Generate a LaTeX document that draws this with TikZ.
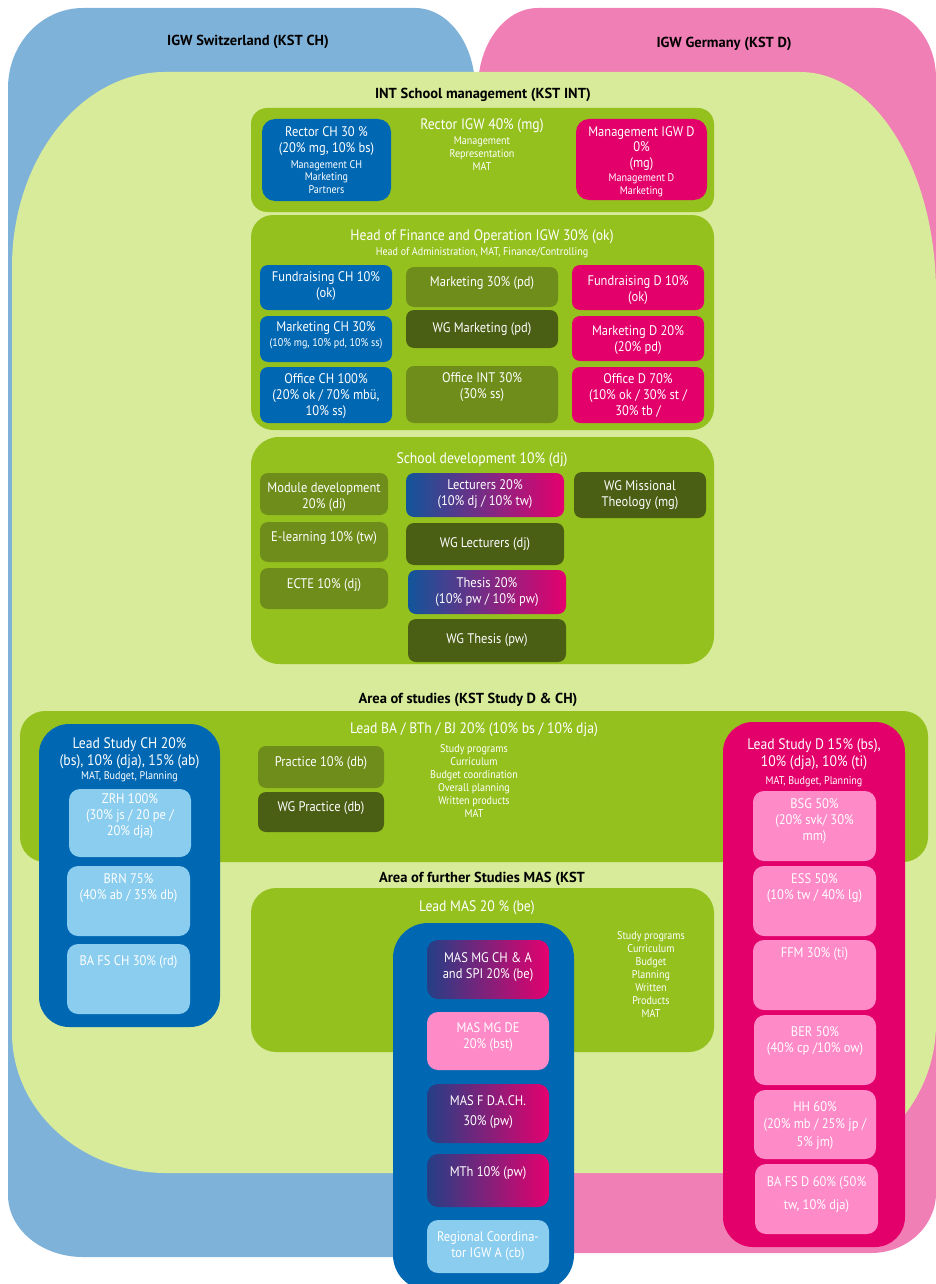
\documentclass[tikz,border=0pt]{standalone}
\usepackage{fontspec}
\setmainfont{PT Sans}[FakeStretch=0.9]
\newfontfamily\ttlfont{PT Sans}
\definecolor{cBlueL}{HTML}{7FB2D8}
\definecolor{cPinkL}{HTML}{F07FB5}
\definecolor{cGreenL}{HTML}{D8EB9B}
\definecolor{cGreenM}{HTML}{95C11F}
\definecolor{cBlue}{HTML}{0068B3}
\definecolor{cMag}{HTML}{E4006B}
\definecolor{cOlive}{HTML}{6F8D1B}
\definecolor{cDark}{HTML}{4A5E14}
\definecolor{cLBlue}{HTML}{8ACDEF}
\definecolor{cLPink}{HTML}{FF8AC8}
\definecolor{cGradL}{HTML}{11559A}
\definecolor{cGradR}{HTML}{E5006E}
\definecolor{cGradL2}{HTML}{243F86}
\tikzset{
  bx/.style={anchor=north west, inner sep=0pt, outer sep=0pt, draw=none, rounded corners=8pt},
  panel/.style={bx, fill=cGreenM, rounded corners=22pt},
  col/.style={bx, rounded corners=30pt},
  grad/.style={left color=cGradL, right color=cGradR},
  grad2/.style={left color=cGradL2, right color=cGradR},
  tx/.style={inner sep=0pt, align=center, text=white, font=\fontsize{13.9}{16}\selectfont},
  ts/.style={inner sep=0pt, align=center, text=white, font=\fontsize{11.2}{12.9}\selectfont},
  th/.style={inner sep=0pt, align=center, text=white, font=\fontsize{15.2}{17}\selectfont},
  ttl/.style={inner sep=0pt, align=center, text=black, font=\ttlfont\bfseries\fontsize{14.5}{16}\selectfont},
}
\newcommand\bxn[7]{\node[bx,#2,minimum width={#5-#3},minimum height={#6-#4}] (#1) at (#3,#4) {#7};}
\begin{document}
\begin{tikzpicture}[x=1pt,y=-1pt]
\useasboundingbox (0,0) rectangle (936,1284);
% outer areas
\fill[cBlueL] (83,8) -- (415,8) .. controls (448.1,8) and (475,43.8) .. (475,88) -- (475,1197) .. controls (475,1230.1) and (448.1,1257) .. (415,1257) -- (83,1257) .. controls (41.6,1257) and (8,1229.2) .. (8,1195) -- (8,88) .. controls (8,43.8) and (41.6,8) .. (83,8) -- cycle;
\fill[cPinkL] (538,8) -- (876,8) .. controls (909.1,8) and (936,39.4) .. (936,78) -- (936,1193) .. controls (936,1226.1) and (906.9,1253) .. (871,1253) -- (538,1253) .. controls (504.9,1253) and (478,1226.1) .. (478,1193) -- (478,88) .. controls (478,43.8) and (504.9,8) .. (538,8) -- cycle;
\fill[cGreenL] (165,72) -- (800,72) .. controls (875.1,72) and (936,171) .. (936,293) -- (936,1023) .. controls (936,1105.8) and (868.8,1173) .. (786,1173) -- (166,1173) .. controls (81,1173) and (12,1110.3) .. (12,1033) -- (12,267) .. controls (12,159.4) and (80.5,72) .. (165,72) -- cycle;
% titles
\node[ttl] (tCH) at (248,42) {IGW Switzerland (KST CH)};
\node[ttl] (tD) at (724,44) {IGW Germany (KST D)};
\node[ttl] (tINT) at (483,95) {INT School management (KST INT)};
\node[ttl] (tAS) at (468,700) {Area of studies (KST Study D \& CH)};
\node[ttl] (tMAS) at (482,879) {Area of further Studies MAS (KST};
% panel 1: rector
\bxn{p1}{panel,rounded corners=16pt}{251}{108}{714}{212}{}
\bxn{rch}{fill=cBlue,rounded corners=13pt}{262}{119}{391}{201}{}
\node[tx] (rch-a) at (326.5,141) {Rector CH 30 \%\\(20\% mg, 10\% bs)};
\node[ts] (rch-b) at (326.5,177) {Management CH\\Marketing\\Partners};
\node[th] (rig-a) at (482,126) {Rector IGW 40\% (mg)};
\node[ts] (rig-b) at (482,153.5) {Management\\Representation\\MAT};
\bxn{mgd}{fill=cMag,rounded corners=13pt}{576}{119}{707}{200}{}
\node[tx,font=\fontsize{13.9}{15.5}\selectfont] (mgd-a) at (641.5,148.5) {Management IGW D\\0\%\\(mg)};
\node[ts] (mgd-b) at (641.5,185.5) {Management D\\Marketing};
% panel 2: finance
\bxn{p2}{panel}{251}{215}{714}{430}{}
\node[th] (p2-a) at (482,237) {Head of Finance and Operation IGW 30\% (ok)};
\node[ts] (p2-b) at (482,253) {Head of Administration, MAT, Finance/Controlling};
\bxn{fch}{fill=cBlue}{260}{265}{392}{310}{}
\node[tx] (fch-t) at (326,286) {Fundraising CH 10\%\\(ok)};
\bxn{mch}{fill=cBlue}{260}{316}{392}{362}{}
\node[tx] (mch-a) at (326,328) {Marketing CH 30\%};
\node[ts] (mch-b) at (326,344) {(10\% mg, 10\% pd, 10\% ss)};
\bxn{och}{fill=cBlue}{260}{367}{392}{423}{}
\node[tx] (och-t) at (326,396) {Office CH 100\%\\(20\% ok / 70\% mbü,\\10\% ss)};
\bxn{m30}{fill=cOlive}{406}{267}{558}{307}{}
\node[tx] (m30-t) at (482,283) {Marketing 30\% (pd)};
\bxn{wgm}{fill=cDark}{406}{310}{558}{348}{}
\node[tx] (wgm-t) at (482,329) {WG Marketing (pd)};
\bxn{oint}{fill=cOlive}{406}{366}{558}{423}{}
\node[tx] (oint-t) at (482,387) {Office INT 30\%\\(30\% ss)};
\bxn{fd}{fill=cMag}{572}{265}{704}{310}{}
\node[tx] (fd-t) at (638,290) {Fundraising D 10\%\\(ok)};
\bxn{md}{fill=cMag}{572}{316}{704}{361}{}
\node[tx] (md-t) at (638,340) {Marketing D 20\%\\(20\% pd)};
\bxn{od}{fill=cMag}{572}{367}{704}{423}{}
\node[tx] (od-t) at (638,396) {Office D 70\%\\(10\% ok / 30\% st /\\30\% tb /};
% panel 3: school development
\bxn{p3}{panel,rounded corners=28pt}{251}{437}{714}{664}{}
\node[th] (p3-a) at (482,460) {School development 10\% (dj)};
\bxn{mod}{fill=cOlive}{260}{473}{388}{515}{}
\node[tx] (mod-t) at (324,497.5) {Module development\\20\% (di)};
\bxn{elr}{fill=cOlive}{260}{522}{388}{562}{}
\node[tx] (elr-t) at (324,538) {E-learning 10\% (tw)};
\bxn{ecte}{fill=cOlive}{260}{568}{388}{609}{}
\node[tx] (ecte-t) at (324,585) {ECTE 10\% (dj)};
\bxn{lec}{grad}{406}{473}{564}{517}{}
\node[tx] (lec-t) at (485,494.5) {Lecturers 20\%\\(10\% dj / 10\% tw)};
\bxn{wgl}{fill=cDark}{406}{523}{564}{565}{}
\node[tx] (wgl-t) at (485,544) {WG Lecturers (dj)};
\bxn{the}{grad}{408}{570}{566}{614}{}
\node[tx] (the-t) at (487,592) {Thesis 20\%\\(10\% pw / 10\% pw)};
\bxn{wgt}{fill=cDark}{408}{619}{566}{662}{}
\node[tx] (wgt-t) at (487,640) {WG Thesis (pw)};
\bxn{wgmis}{fill=cDark}{574}{472}{706}{518}{}
\node[tx] (wgmis-t) at (640,495) {WG Missional\\Theology (mg)};
% panel 4: area of studies
\bxn{p4}{panel,rounded corners=25pt}{20}{711}{928}{862}{}
\node[th] (p4-a) at (474,730) {Lead BA / BTh / BJ 20\% (10\% bs / 10\% dja)};
\bxn{prac}{fill=cOlive}{258}{746}{384}{788}{}
\node[tx] (prac-t) at (321,763) {Practice 10\% (db)};
\bxn{wgp}{fill=cDark}{258}{792}{384}{832}{}
\node[tx] (wgp-t) at (321,808) {WG Practice (db)};
\node[ts] (p4-l) at (474,781) {Study programs\\Curriculum\\Budget coordination\\Overall planning\\Written products\\MAT};
% panel 5: MAS
\bxn{p5}{panel,rounded corners=25pt}{251}{888}{714}{1052}{}
\node[th] (p5-a) at (477,908) {Lead MAS 20 \% (be)};
\node[ts] (p5-l) at (651,974.5) {Study programs\\Curriculum\\Budget\\Planning\\Written\\Products\\MAT};
% lead study CH column
\bxn{lsch}{col,fill=cBlue}{39}{724}{220}{1027}{}
\node[th] (lsch-a) at (129.5,753) {Lead Study CH 20\%\\(bs), 10\% (dja), 15\% (ab)};
\node[ts] (lsch-b) at (129.5,777) {MAT, Budget, Planning};
\bxn{zrh}{fill=cLBlue,rounded corners=11pt}{69}{789}{191}{857}{}
\node[tx] (zrh-t) at (130,816) {ZRH 100\%\\(30\% js / 20 pe /\\20\% dja)};
\bxn{brn}{fill=cLBlue,rounded corners=11pt}{67}{866}{190}{936}{}
\node[tx] (brn-t) at (128.5,888) {BRN 75\%\\(40\% ab / 35\% db)};
\bxn{bafsch}{fill=cLBlue,rounded corners=11pt}{67}{944}{190}{1014}{}
\node[tx] (bafsch-t) at (128.5,962) {BA FS CH 30\% (rd)};
% lead study D column
\bxn{lsd}{col,fill=cMag}{723}{722}{905}{1247}{}
\node[th] (lsd-a) at (814,754.5) {Lead Study D 15\% (bs),\\10\% (dja), 10\% (ti)};
\node[ts] (lsd-b) at (814,782) {MAT, Budget, Planning};
\bxn{bsg}{fill=cLPink,rounded corners=11pt}{753}{791}{876}{861}{}
\node[tx] (bsg-t) at (814.5,821) {BSG 50\%\\(20\% svk/ 30\%\\mm)};
\bxn{ess}{fill=cLPink,rounded corners=11pt}{753}{866}{876}{936}{}
\node[tx] (ess-t) at (814.5,888) {ESS 50\%\\(10\% tw / 40\% lg)};
\bxn{ffm}{fill=cLPink,rounded corners=11pt}{753}{940}{876}{1010}{}
\node[tx] (ffm-t) at (814.5,954) {FFM 30\% (ti)};
\bxn{ber}{fill=cLPink,rounded corners=11pt}{754}{1015}{876}{1085}{}
\node[tx] (ber-t) at (815,1041) {BER 50\%\\(40\% cp /10\% ow)};
\bxn{hh}{fill=cLPink,rounded corners=11pt}{754}{1090}{876}{1159}{}
\node[tx,font=\fontsize{13.9}{17.5}\selectfont] (hh-t) at (815,1125.5) {HH 60\%\\(20\% mb / 25\% jp /\\5\% jm)};
\bxn{bafsd}{fill=cLPink,rounded corners=11pt}{755}{1164}{878}{1234}{}
\node[tx,font=\fontsize{13.9}{23}\selectfont] (bafsd-t) at (816.5,1194.5) {BA FS D 60\% (50\%\\tw, 10\% dja)};
% MAS column
\bxn{masc}{col,fill=cBlue,rounded corners=35pt}{393}{923}{574}{1290}{}
\bxn{mgch}{grad2,rounded corners=11pt}{427}{940}{549}{999}{}
\node[tx] (mgch-t) at (488,967) {MAS MG CH \& A\\and SPI 20\% (be)};
\bxn{mgde}{fill=cLPink,rounded corners=11pt}{427}{1012}{549}{1070}{}
\node[tx] (mgde-t) at (488,1037) {MAS MG DE\\20\% (bst)};
\bxn{fdach}{grad2,rounded corners=11pt}{427}{1084}{549}{1143}{}
\node[tx,font=\fontsize{13.9}{20}\selectfont] (fdach-t) at (488,1112) {MAS F D.A.CH.\\30\% (pw)};
\bxn{mth}{grad2,rounded corners=11pt}{427}{1154}{549}{1207}{}
\node[tx] (mth-t) at (488,1173) {MTh 10\% (pw)};
\bxn{reg}{fill=cLBlue,rounded corners=11pt}{427}{1220}{549}{1273}{}
\node[tx] (reg-t) at (488,1246) {Regional Coordina-\\tor IGW A (cb)};
\end{tikzpicture}
\end{document}
